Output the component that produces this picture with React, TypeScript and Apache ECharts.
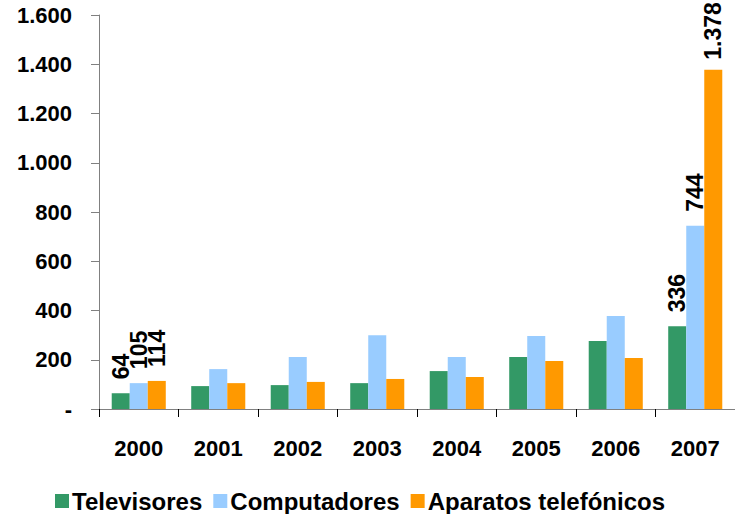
import React, { useEffect, useRef } from "react";
import * as echarts from "echarts";

const categories = ["2000", "2001", "2002", "2003", "2004", "2005", "2006", "2007"];
const televisores = [64, 93, 97, 105, 154, 211, 276, 336];
const computadores = [105, 162, 211, 300, 211, 296, 378, 744];
const telefonicos = [114, 105, 110, 122, 130, 195, 207, 1378];
const labeledIdx = [0, 7];

const fmt = (v: number) => {
  if (v === 0) return "-";
  return String(Math.round(v)).replace(/\B(?=(\d{3})+(?!\d))/g, ".");
};

const FONT = "'Liberation Sans', Arial, sans-serif";

export default function App() {
  const ref = useRef<HTMLDivElement>(null);
  useEffect(() => {
    if (!ref.current) return;
    const chart = echarts.init(ref.current, undefined, { renderer: "svg" });
    const mk = (name: string, data: number[], color: string) => ({
      name,
      type: "bar",
      barGap: "0%",
      barCategoryGap: "32%",
      itemStyle: { color },
      data: data.map((v, i) => ({
        value: v,
        label: {
          show: labeledIdx.includes(i),
          distance: v > 1000 ? 10 : 14,
        },
      })),
      label: {
        show: false,
        position: "top",
        rotate: 90,
        align: "left",
        verticalAlign: "middle",
        distance: 14,
        color: "#000",
        fontWeight: "bold",
        fontSize: 23,
        fontFamily: FONT,
        formatter: (p: any) => fmt(p.value),
      },
    });
    chart.setOption({
      animation: false,
      backgroundColor: "#fff",
      grid: { left: 99, right: 0, top: 15, bottom: 105, containLabel: false },
      legend: {
        left: 50,
        top: 484,
        itemWidth: 14,
        itemHeight: 14,
        itemGap: 11,
        icon: "rect",
        textStyle: { fontSize: 24, fontWeight: "bold", color: "#000", fontFamily: FONT, padding: [0, 0, 0, -2] },
        data: ["Televisores", "Computadores", "Aparatos telefónicos"],
      },
      xAxis: {
        type: "category",
        data: categories,
        axisLine: { lineStyle: { color: "#808080", width: 1 } },
        axisTick: { show: true, length: 8, lineStyle: { color: "#000" } },
        axisLabel: { margin: 28, fontSize: 22, fontWeight: "bold", color: "#000", fontFamily: FONT },
      },
      yAxis: {
        type: "value",
        min: 0,
        max: 1600,
        interval: 200,
        splitLine: { show: false },
        axisLine: { show: true, lineStyle: { color: "#808080", width: 1 } },
        axisTick: { show: true, length: 8, lineStyle: { color: "#808080" } },
        axisLabel: {
          margin: 27,
          fontSize: 22,
          fontWeight: "bold",
          color: "#000",
          fontFamily: FONT,
          formatter: (v: number) => fmt(v),
        },
      },
      series: [
        mk("Televisores", televisores, "#339966"),
        mk("Computadores", computadores, "#99ccff"),
        mk("Aparatos telefónicos", telefonicos, "#ff9900"),
      ],
    });
    return () => chart.dispose();
  }, []);
  return <div ref={ref} style={{ width: 735, height: 514, position: "absolute", left: 0, top: 0 }} />;
}
